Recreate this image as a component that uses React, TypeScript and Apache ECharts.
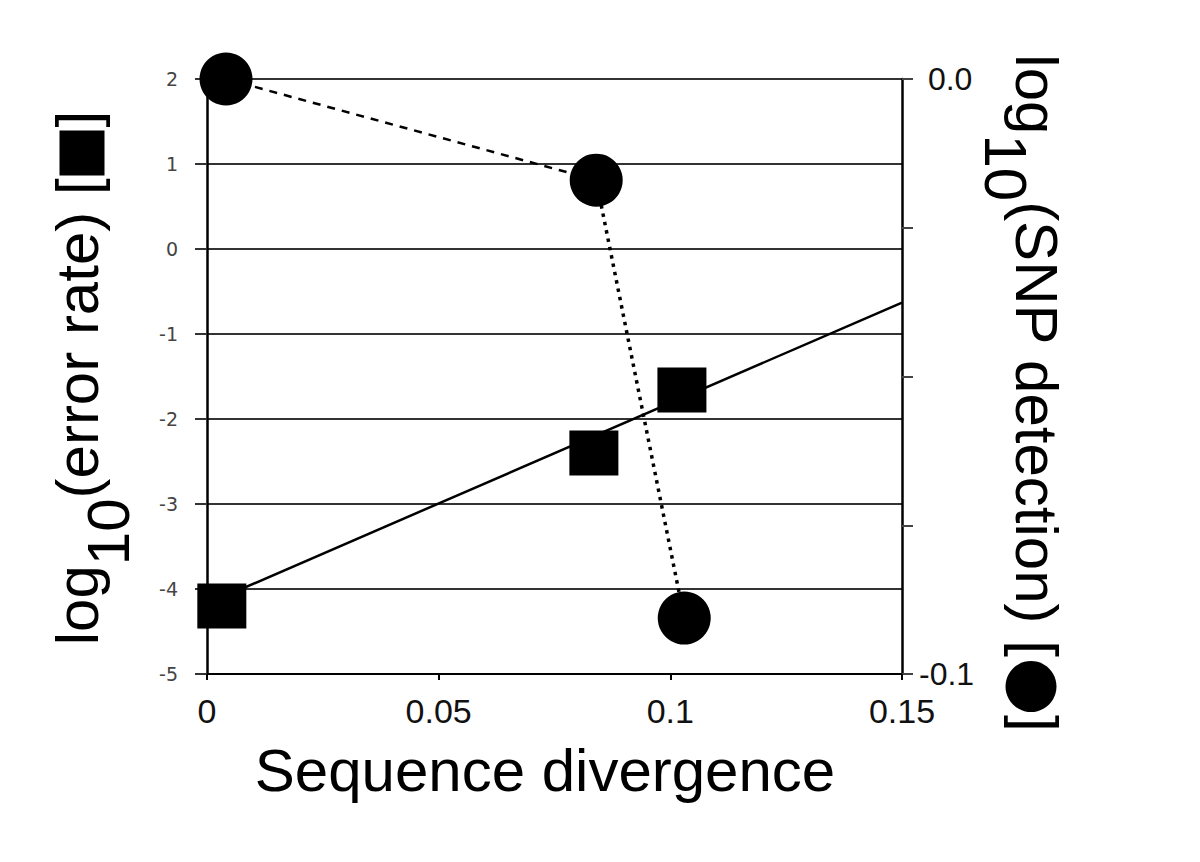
import React, { useEffect, useRef } from "react";
import * as echarts from "echarts";

// Error rate (left axis) points
const errX = [0.0032, 0.0835, 0.1025];
const errY = [-4.2, -2.4, -1.66];
// Regression line for error rate
const fitX = [0.0032, 0.15];
const fitY = [-4.1, -0.63];
// SNP detection (right axis) points
const snpX = [0.0041, 0.084, 0.103];
const snpY = [0.0, -0.017, -0.0906];
// Tick labels
const xTicks = ["0", "0.05", "0.1", "0.15"];
const leftTicks = [-5, -4, -3, -2, -1, 0, 1, 2];
// Axis titles
const xTitle = "Sequence divergence";
const leftTitle = ["log", "10", "(error rate) [", "]"];
const rightTitle = ["log", "10", "(SNP detection) [", "]"];

const FONT = "Liberation Sans, Arial, sans-serif";
const TSIZE = 60;

function measure(text: string): number {
  const c = document.createElement("canvas").getContext("2d");
  if (!c) return text.length * TSIZE * 0.5;
  c.font = `${TSIZE}px "Liberation Sans", Arial, sans-serif`;
  return c.measureText(text).width;
}

function buildTitle(
  parts: string[],
  symbol: "rect" | "circle",
  symSize: number,
  cx: number,
  cy: number,
  rotation: number
) {
  const baseOff = -21; // middle-aligned text y so that baseline is at local 0
  const subDrop = 31;
  const gap = 3;
  const w0 = measure(parts[0]);
  const w1 = measure(parts[1]);
  const w2 = measure(parts[2]);
  const w3 = measure(parts[3]);
  const total = w0 + w1 + w2 + gap + symSize + gap + w3;
  const start = -total / 2;
  const children: any[] = [];
  let x = start;
  const txt = (t: string, px: number, py: number) => ({
    type: "text",
    x: px,
    y: py,
    style: {
      text: t,
      font: `${TSIZE}px ${FONT}`,
      fill: "#000",
      textAlign: "left",
      textVerticalAlign: "middle",
    },
  });
  children.push(txt(parts[0], x, baseOff));
  x += w0;
  children.push(txt(parts[1], x, baseOff + subDrop));
  x += w1;
  children.push(txt(parts[2], x, baseOff));
  x += w2 + gap;
  const symCenterY = -16;
  if (symbol === "rect") {
    children.push({
      type: "rect",
      shape: { x: x, y: symCenterY - symSize / 2, width: symSize, height: symSize },
      style: { fill: "#000" },
    });
  } else {
    children.push({
      type: "circle",
      shape: { cx: x + symSize / 2, cy: symCenterY, r: symSize / 2 },
      style: { fill: "#000" },
    });
  }
  x += symSize + gap;
  children.push(txt(parts[3], x, baseOff));
  return { type: "group", x: cx, y: cy, rotation, children };
}

export default function App() {
  const ref = useRef<HTMLDivElement>(null);
  useEffect(() => {
    if (!ref.current) return;
    const chart = echarts.init(ref.current, null, { renderer: "svg" });
    chart.setOption({
      animation: false,
      backgroundColor: "#fff",
      grid: { left: 207, right: 298, top: 79, bottom: 188 },
      xAxis: {
        type: "value",
        min: 0,
        max: 0.15,
        interval: 0.05,
        axisLine: { show: true, onZero: false, lineStyle: { color: "#000", width: 2 } },
        axisTick: { show: true, length: 6, lineStyle: { color: "#000", width: 2 } },
        splitLine: { show: false },
        axisLabel: {
          margin: 20,
          fontSize: 34,
          fontFamily: FONT,
          color: "#111",
          formatter: (v: number) => {
            const i = Math.round(v / 0.05);
            return xTicks[i] ?? "";
          },
        },
      },
      yAxis: [
        {
          type: "value",
          min: leftTicks[0],
          max: leftTicks[leftTicks.length - 1],
          interval: 1,
          axisLine: { show: true, onZero: false, lineStyle: { color: "#000", width: 2.5 } },
          axisTick: { show: true, length: 12, lineStyle: { color: "#333", width: 2 } },
          splitLine: { show: true, lineStyle: { color: "#333", width: 2 } },
          axisLabel: { margin: 29, fontSize: 19, fontFamily: "DejaVu Sans", color: "#444" },
        },
        {
          type: "value",
          min: -0.1,
          max: 0,
          interval: 0.025,
          position: "right",
          axisLine: { show: true, onZero: false, lineStyle: { color: "#000", width: 2.5 } },
          axisTick: { show: true, length: 11, lineStyle: { color: "#444", width: 2 } },
          splitLine: { show: false },
          axisLabel: {
            margin: 17,
            fontSize: 32,
            fontFamily: FONT,
            color: "#111",
            formatter: (v: number) =>
              Math.abs(v) < 1e-9 ? " 0.0" : Math.abs(v + 0.1) < 1e-9 ? "-0.1" : "",
          },
        },
      ],
      graphic: [
        {
          type: "text",
          x: 545,
          y: 770,
          style: {
            text: xTitle,
            font: `60px ${FONT}`,
            fill: "#000",
            textAlign: "center",
            textVerticalAlign: "middle",
          },
        },
        buildTitle(leftTitle, "rect", 45, 98, 378, Math.PI / 2),
        buildTitle(rightTitle, "circle", 51, 1015, 393, -Math.PI / 2),
      ],
      series: [
        {
          type: "line",
          data: fitX.map((x, i) => [x, fitY[i]]),
          showSymbol: false,
          lineStyle: { color: "#000", width: 2.5 },
          z: 3,
        },
        {
          type: "line",
          yAxisIndex: 1,
          data: [
            [snpX[0], snpY[0]],
            [snpX[1], snpY[1]],
          ],
          showSymbol: false,
          lineStyle: { color: "#000", width: 2.5, type: [8, 7] },
          z: 3,
        },
        {
          type: "line",
          yAxisIndex: 1,
          data: [
            [snpX[1], snpY[1]],
            [snpX[2], snpY[2]],
          ],
          showSymbol: false,
          lineStyle: { color: "#000", width: 3.5, type: [3.5, 5] },
          z: 3,
        },
        {
          type: "scatter",
          data: errX.map((x, i) => [x, errY[i]]),
          symbol: "rect",
          symbolSize: [49, 45],
          itemStyle: { color: "#000", opacity: 1 },
          clip: false,
          z: 5,
        },
        {
          type: "scatter",
          yAxisIndex: 1,
          data: snpX.map((x, i) => [x, snpY[i]]),
          symbol: "circle",
          symbolSize: 53,
          itemStyle: { color: "#000", opacity: 1 },
          clip: false,
          z: 5,
        },
      ],
    });
    return () => chart.dispose();
  }, []);
  return <div ref={ref} style={{ width: 1200, height: 862, position: "absolute", left: 0, top: 0 }} />;
}
